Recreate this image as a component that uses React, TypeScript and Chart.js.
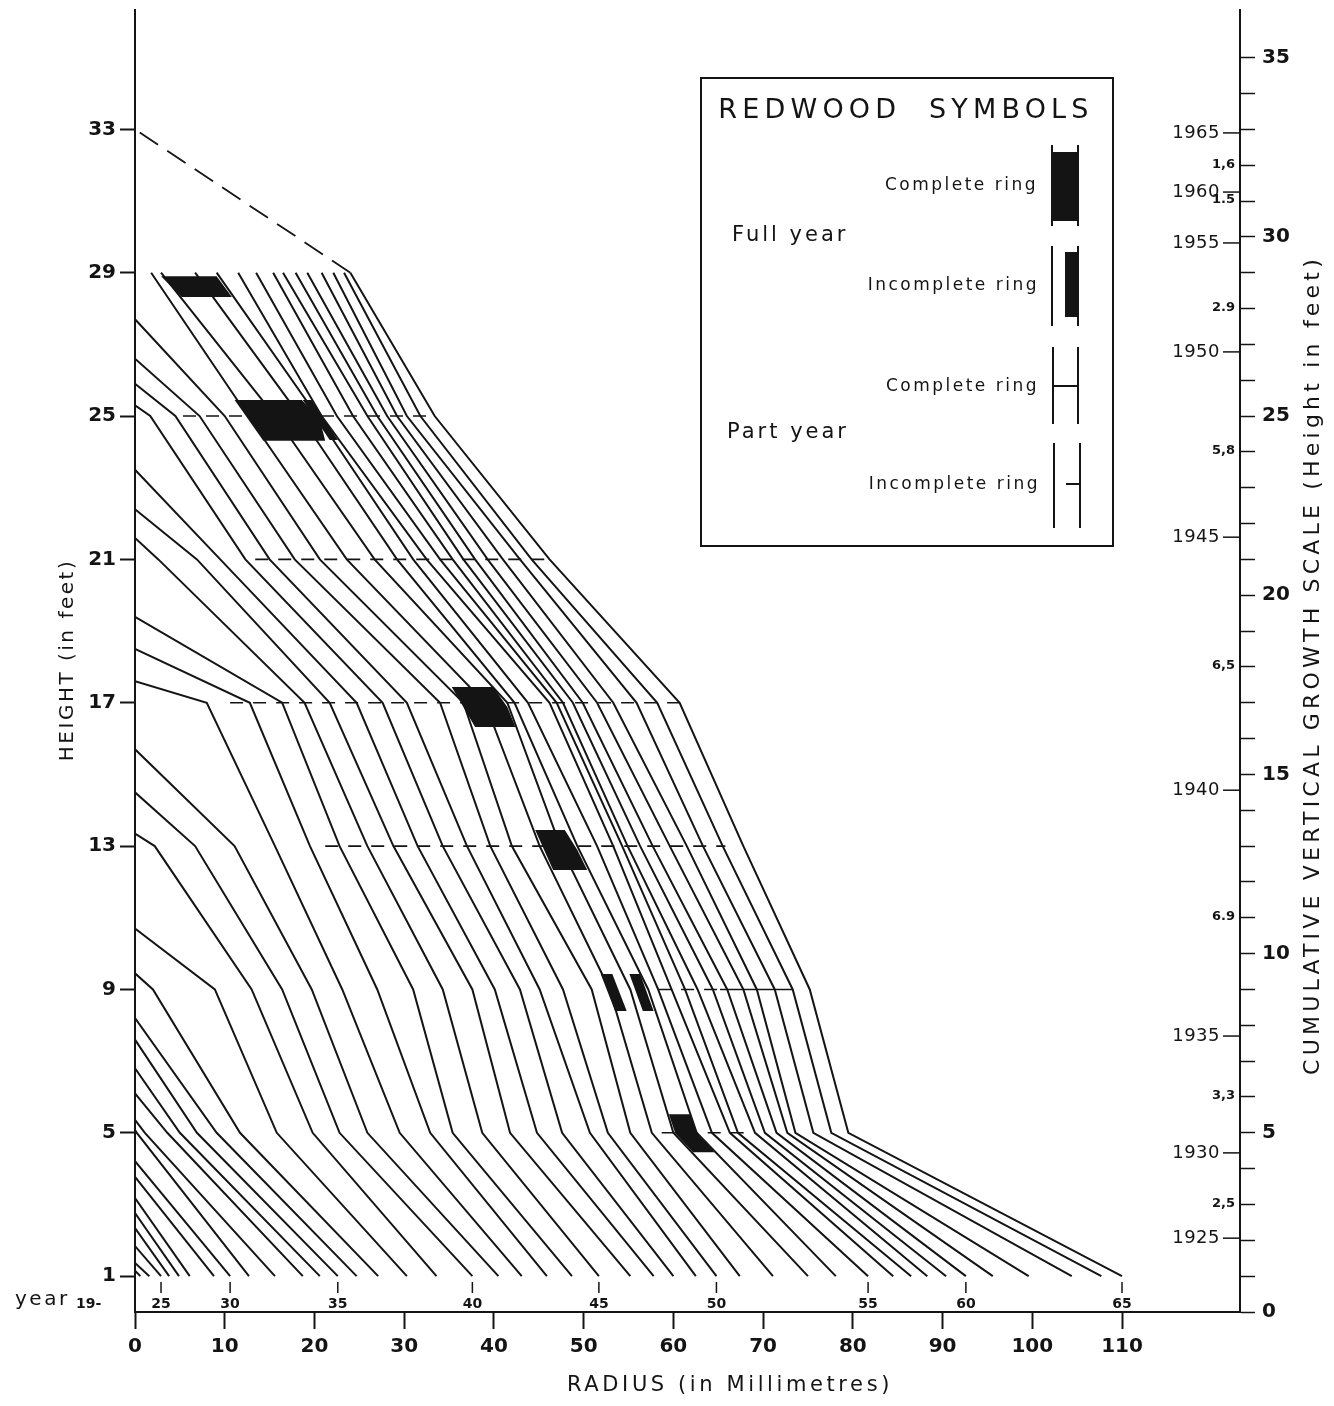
import { useEffect, useRef } from "react";
import { Chart, registerables } from "chart.js";

Chart.register(...registerables);

const INK = "#141414";
const SANS = "'DejaVu Sans', 'Liberation Sans', sans-serif";

// Heights (ft) of the measured discs
const DISC_HEIGHTS = [1, 5, 9, 13, 17, 21, 25, 29];

// Ring-boundary radii (mm) on each disc, oldest boundary first, 1965 last
const RADII_1FT = [0.6, 1.6, 2.9, 3.8, 4.9, 6.1, 8.8, 10.6, 12.7, 15.6, 18.7, 20.6, 22.6, 24.7, 27.1, 30.3, 33.6, 37.6, 40.5, 43.1, 45.9, 48.7, 51.7, 55.2, 57.8, 60.0, 62.5, 64.8, 67.4, 71.1, 75.0, 78.1, 81.7, 84.5, 86.5, 88.3, 90.4, 92.6, 95.6, 99.6, 104.4, 107.7, 110.0];
const RADII_5FT = [0.2, 1.1, 3.6, 5.0, 6.9, 9.1, 11.7, 15.8, 19.8, 22.8, 25.9, 29.5, 32.9, 35.4, 38.7, 41.8, 44.8, 47.6, 50.7, 52.7, 55.2, 57.6, 60.0, 62.6, 64.3, 66.3, 67.2, 69.1, 70.2, 71.5, 72.7, 73.6, 75.6, 77.6, 79.5];
const RADII_9FT = [2.0, 8.9, 13.0, 16.4, 19.7, 23.1, 27.0, 31.0, 34.3, 37.6, 40.1, 42.9, 45.1, 47.7, 50.9, 52.9, 55.2, 57.2, 58.3, 59.8, 61.3, 62.7, 64.4, 66.0, 67.8, 69.3, 71.3, 73.3, 75.2];
const RADII_13FT = [2.2, 6.7, 11.1, 15.6, 19.5, 22.8, 25.9, 28.8, 31.5, 34.3, 37.0, 39.6, 42.0, 45.1, 47.4, 49.3, 51.5, 53.3, 54.3, 54.9, 56.3, 57.7, 59.6, 61.5, 63.3, 65.5, 67.8];
const RADII_17FT = [8.0, 12.8, 16.4, 18.9, 21.7, 24.7, 27.6, 30.3, 34.0, 36.6, 39.0, 41.5, 42.3, 43.8, 46.2, 47.0, 47.7, 48.8, 49.9, 51.5, 53.3, 55.9, 58.2, 60.7];
const RADII_21FT = [2.6, 6.9, 9.5, 12.3, 15.0, 17.8, 20.6, 23.6, 26.7, 29.2, 31.0, 32.5, 34.0, 35.4, 36.6, 37.9, 39.3, 41.0, 42.9, 44.2, 46.2];
const RADII_25FT = [1.7, 4.5, 7.2, 10.0, 12.6, 15.6, 18.4, 20.3, 20.8, 22.5, 24.3, 25.9, 27.0, 28.1, 29.2, 30.3, 31.8, 33.4];
const RADII_29FT = [1.8, 2.9, 6.7, 9.1, 11.5, 13.5, 15.4, 16.5, 17.9, 19.2, 20.8, 22.1, 23.3, 24.0];
const DISC_RADII = [RADII_1FT, RADII_5FT, RADII_9FT, RADII_13FT, RADII_17FT, RADII_21FT, RADII_25FT, RADII_29FT];

const FIRST_YEAR = 1923;
const LAST_YEAR = 1965;

// Height (ft) where each boundary from 1923 to 1951 closes on the pith
const PITH_HEIGHTS = [1.15, 1.37, 1.84, 2.34, 2.76, 3.18, 3.77, 4.21, 5.08, 5.36, 6.1, 6.8, 7.6, 8.2, 9.45, 10.7, 13.35, 14.5, 15.7, 17.6, 18.5, 19.4, 21.6, 22.4, 23.5, 25.3, 25.9, 26.6, 27.7];

// Estimated tree top in 1965 (ft)
const TOP_HEIGHT_1965 = 33;

// Part-year marks along the discs (mm)
const DASH_HEIGHTS = [5, 9, 13, 17, 21, 25];
const DASH_FROM = [58.7, 58.3, 21.2, 10.6, 13.4, 5.35];
const DASH_TO = [68.9, 65.2, 65.8, 60.7, 46.2, 33.4];
const SOLID_HEIGHTS = [9];
const SOLID_FROM = [65.2];
const SOLID_TO = [73.3];

// Full-year rings shown as solid blocks: [radius mm, height ft] corners
const RING_BLOCKS = [
  [[2.9, 28.9], [9.1, 28.9], [10.8, 28.32], [5.2, 28.32]],
  [[11.1, 25.45], [18.6, 25.45], [20.6, 24.9], [21.2, 24.31], [14.3, 24.31]],
  [[18.7, 25.45], [19.7, 25.45], [22.6, 24.33], [21.7, 24.33]],
  [[35.3, 17.44], [39.9, 17.44], [41.5, 16.88], [42.4, 16.32], [37.9, 16.32]],
  [[44.6, 13.45], [47.9, 13.45], [49.3, 12.89], [50.4, 12.33], [46.6, 12.33]],
  [[51.9, 9.43], [53.2, 9.43], [54.8, 8.4], [53.5, 8.4]],
  [[55.1, 9.43], [56.3, 9.43], [57.8, 8.4], [56.6, 8.4]],
  [[59.5, 5.52], [61.9, 5.52], [62.6, 4.99], [64.6, 4.46], [62.2, 4.46], [60.2, 4.99]],
];

// Axes
const X_MAX = 123.15;
const Y_MAX = 36.33;
const X_TICKS = [0, 10, 20, 30, 40, 50, 60, 70, 80, 90, 100, 110];
const HEIGHT_TICKS = [1, 5, 9, 13, 17, 21, 25, 29, 33];

// Right-hand growth scale: year marks and 5-year growth (ft)
const SCALE_YEARS = ["1925", "1930", "1935", "1940", "1945", "1950", "1955", "1960", "1965"];
const SCALE_YEAR_HEIGHTS = [2.06, 4.44, 7.7, 14.56, 21.62, 26.79, 29.83, 31.25, 32.9];
const GROWTH_LABELS = ["2,5", "3,3", "6.9", "6,5", "5,8", "2.9", "1.5", "1,6"];
const GROWTH_HEIGHTS = [3, 6, 11, 18, 24, 28, 31, 32];

// Years labelled under the 1 ft disc
const BASE_LABEL_YEARS = [1925, 1930, 1935, 1940, 1945, 1950, 1955, 1960, 1965];

function ringLine(year: number) {
  const pts: { x: number; y: number }[] = [];
  DISC_HEIGHTS.forEach((h, d) => {
    const list = DISC_RADII[d];
    const idx = list.length - 1 - (LAST_YEAR - year);
    if (idx >= 0) pts.push({ x: list[idx], y: h });
  });
  const p = year - FIRST_YEAR;
  if (p < PITH_HEIGHTS.length) pts.push({ x: 0, y: PITH_HEIGHTS[p] });
  return pts;
}

function label(
  ctx: CanvasRenderingContext2D,
  s: string,
  x: number,
  y: number,
  o: { size: number; weight?: string; align?: CanvasTextAlign; spacing?: number; rotate?: number }
) {
  ctx.save();
  ctx.translate(x, y);
  if (o.rotate) ctx.rotate(o.rotate);
  ctx.font = `${o.weight || "normal"} ${o.size}px ${SANS}`;
  (ctx as any).letterSpacing = `${o.spacing || 0}px`;
  ctx.textAlign = o.align || "left";
  ctx.textBaseline = "middle";
  ctx.fillStyle = INK;
  ctx.fillText(s, 0, 0);
  ctx.restore();
}

const decor = {
  id: "decor",
  afterDatasetsDraw(chart: any) {
    const { ctx, scales } = chart;
    const sx = scales.x;
    const sy = scales.y;
    ctx.save();
    ctx.fillStyle = INK;
    RING_BLOCKS.forEach((poly) => {
      ctx.beginPath();
      poly.forEach(([r, h], i) => {
        const px = sx.getPixelForValue(r);
        const py = sy.getPixelForValue(h);
        if (i) ctx.lineTo(px, py);
        else ctx.moveTo(px, py);
      });
      ctx.closePath();
      ctx.fill();
    });
    ctx.restore();
  },
  afterDraw(chart: any) {
    const { ctx, scales, chartArea } = chart;
    const sx = scales.x;
    const sy = scales.y;
    const right = chartArea.right;

    // axis titles
    label(ctx, "HEIGHT (in feet)", 68, 660, { size: 20, spacing: 2.5, align: "center", rotate: -Math.PI / 2 });
    label(ctx, "RADIUS (in Millimetres)", 730, 1386, { size: 21, spacing: 3.6, align: "center" });
    label(ctx, "CUMULATIVE VERTICAL GROWTH SCALE (Height in feet)", 1313, 665, {
      size: 22,
      spacing: 4.2,
      align: "center",
      rotate: -Math.PI / 2,
    });

    // year marks on the growth scale
    ctx.save();
    ctx.strokeStyle = INK;
    ctx.lineWidth = 1.5;
    SCALE_YEARS.forEach((s, i) => {
      const py = sy.getPixelForValue(SCALE_YEAR_HEIGHTS[i]);
      ctx.beginPath();
      ctx.moveTo(right - 17, py);
      ctx.lineTo(right, py);
      ctx.stroke();
      label(ctx, s, right - 20, py, { size: 18, align: "right", spacing: 0.5 });
    });
    ctx.restore();
    GROWTH_LABELS.forEach((s, i) => {
      const py = sy.getPixelForValue(GROWTH_HEIGHTS[i]);
      label(ctx, s, right - 5, py - 1, { size: 13, weight: "bold", align: "right" });
    });

    // year labels under the 1 ft disc
    label(ctx, "year", 15, 1300, { size: 20, spacing: 2.5 });
    label(ctx, "19-", 76, 1304, { size: 14, weight: "bold" });
    ctx.save();
    ctx.strokeStyle = INK;
    ctx.lineWidth = 1.5;
    BASE_LABEL_YEARS.forEach((yr) => {
      const px = sx.getPixelForValue(RADII_1FT[yr - FIRST_YEAR]);
      ctx.beginPath();
      ctx.moveTo(px, 1282);
      ctx.lineTo(px, 1293);
      ctx.stroke();
      label(ctx, String(yr).slice(2), px, 1304, { size: 14, weight: "bold", align: "center" });
    });
    ctx.restore();

    // symbol key
    ctx.save();
    ctx.strokeStyle = INK;
    ctx.fillStyle = INK;
    ctx.lineWidth = 2;
    ctx.strokeRect(701, 78, 412, 468);
    const vline = (x: number, y0: number, y1: number) => {
      ctx.beginPath();
      ctx.moveTo(x, y0);
      ctx.lineTo(x, y1);
      ctx.stroke();
    };
    const hline = (x0: number, x1: number, y: number) => {
      ctx.beginPath();
      ctx.moveTo(x0, y);
      ctx.lineTo(x1, y);
      ctx.stroke();
    };
    vline(1052, 145, 226);
    vline(1078, 145, 226);
    ctx.fillRect(1052, 152, 26, 69);
    vline(1052, 246, 326);
    vline(1078, 246, 326);
    ctx.fillRect(1065, 252, 13, 65);
    vline(1053, 347, 424);
    vline(1078, 347, 424);
    hline(1053, 1078, 386);
    vline(1054, 443, 528);
    vline(1080, 443, 528);
    hline(1066, 1080, 484);
    ctx.restore();
    label(ctx, "REDWOOD  SYMBOLS", 906, 111, { size: 27, spacing: 5.2, align: "center" });
    label(ctx, "Complete ring", 1038, 186, { size: 17, spacing: 2.5, align: "right" });
    label(ctx, "Full year", 732, 236, { size: 21, spacing: 3 });
    label(ctx, "Incomplete ring", 1039, 286, { size: 17, spacing: 2.5, align: "right" });
    label(ctx, "Complete ring", 1039, 387, { size: 17, spacing: 2.5, align: "right" });
    label(ctx, "Part year", 727, 433, { size: 21, spacing: 3 });
    label(ctx, "Incomplete ring", 1040, 485, { size: 17, spacing: 2.5, align: "right" });
  },
};

export default function App() {
  const ref = useRef<HTMLCanvasElement | null>(null);

  useEffect(() => {
    if (!ref.current) return;
    const datasets: any[] = [];
    for (let yr = FIRST_YEAR; yr <= LAST_YEAR; yr++) {
      datasets.push({
        label: String(yr),
        data: ringLine(yr),
        showLine: true,
        borderColor: INK,
        borderWidth: 2,
        pointRadius: 0,
        fill: false,
      });
    }
    const outer = ringLine(LAST_YEAR);
    const top = outer[outer.length - 1];
    datasets.push({
      label: "1965 top",
      data: [top, { x: 0, y: TOP_HEIGHT_1965 }],
      showLine: true,
      borderColor: INK,
      borderWidth: 1.8,
      borderDash: [22, 11],
      pointRadius: 0,
    });
    DASH_HEIGHTS.forEach((h, i) => {
      datasets.push({
        label: `part ${h}`,
        data: [
          { x: DASH_FROM[i], y: h },
          { x: DASH_TO[i], y: h },
        ],
        showLine: true,
        borderColor: INK,
        borderWidth: 1.6,
        borderDash: [13, 10],
        pointRadius: 0,
      });
    });
    SOLID_HEIGHTS.forEach((h, i) => {
      datasets.push({
        label: `solid ${h}`,
        data: [
          { x: SOLID_FROM[i], y: h },
          { x: SOLID_TO[i], y: h },
        ],
        showLine: true,
        borderColor: INK,
        borderWidth: 1.6,
        pointRadius: 0,
      });
    });

    // fixed axis boxes so the plot area sits at 135..1240 x 10..1312
    const fixVertical = (width: number) => (s: any) => {
      s.width = width;
      s.paddingTop = 0;
      s.paddingBottom = 0;
    };

    const tickFont = { family: SANS, size: 20, weight: "bold" as const };
    const chart = new Chart(ref.current, {
      type: "scatter",
      data: { datasets },
      options: {
        responsive: false,
        animation: false,
        devicePixelRatio: 1,
        layout: { padding: { top: 10, left: 0, right: 0, bottom: 0 } },
        plugins: { legend: { display: false }, tooltip: { enabled: false } },
        elements: { point: { radius: 0 }, line: { tension: 0 } },
        scales: {
          x: {
            type: "linear",
            min: 0,
            max: X_MAX,
            afterBuildTicks: (s: any) => {
              s.ticks = X_TICKS.map((v) => ({ value: v }));
            },
            afterFit: (s: any) => {
              s.height = 94;
              s.paddingLeft = 0;
              s.paddingRight = 0;
            },
            grid: { drawOnChartArea: false, drawTicks: true, tickLength: 17, tickWidth: 2, tickColor: INK },
            border: { display: true, color: INK, width: 2 },
            ticks: { font: tickFont, color: INK, padding: 6, maxRotation: 0 },
          },
          y: {
            type: "linear",
            position: "left",
            min: 0,
            max: Y_MAX,
            afterBuildTicks: (s: any) => {
              s.ticks = HEIGHT_TICKS.map((v) => ({ value: v }));
            },
            afterFit: fixVertical(135),
            grid: { drawOnChartArea: false, drawTicks: true, tickLength: 15, tickWidth: 2, tickColor: INK },
            border: { display: true, color: INK, width: 2 },
            ticks: { font: tickFont, color: INK, padding: 4 },
          },
          y2: {
            type: "linear",
            position: "right",
            min: 0,
            max: Y_MAX,
            afterBuildTicks: (s: any) => {
              const t = [];
              for (let v = 0; v <= 35; v++) t.push({ value: v });
              s.ticks = t;
            },
            afterFit: fixVertical(94),
            grid: { drawOnChartArea: false, drawTicks: true, tickLength: 15, tickWidth: 1.5, tickColor: INK },
            border: { display: true, color: INK, width: 2 },
            ticks: {
              font: tickFont,
              color: INK,
              padding: 7,
              autoSkip: false,
              callback: (v: any) => (Number(v) % 5 === 0 ? String(v) : ""),
            },
          },
        },
      },
      plugins: [decor],
    });
    return () => chart.destroy();
  }, []);

  return (
    <div style={{ position: "absolute", left: 0, top: 0, width: 1334, height: 1406, background: "#fff" }}>
      <canvas ref={ref} width={1334} height={1406} />
    </div>
  );
}
